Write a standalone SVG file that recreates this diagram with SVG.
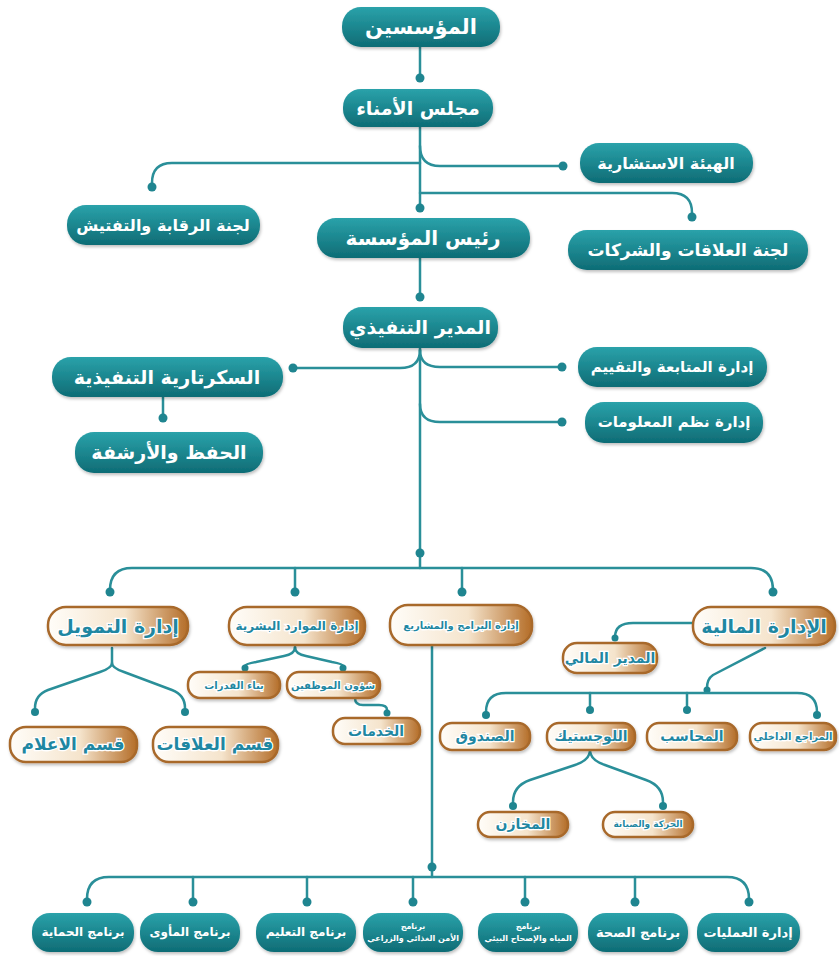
<svg xmlns="http://www.w3.org/2000/svg" width="839" height="956" viewBox="0 0 839 956">
<defs>
<linearGradient id="tg" x1="0" y1="0" x2="0" y2="1">
<stop offset="0" stop-color="#2aa2aa"/>
<stop offset="1" stop-color="#0e6c75"/>
</linearGradient>
<linearGradient id="bg" x1="0" y1="0" x2="1" y2="0">
<stop offset="0" stop-color="#fffdf9"/>
<stop offset="0.55" stop-color="#f5e4cc"/>
<stop offset="1" stop-color="#b46d28"/>
</linearGradient>
<filter id="sh" x="-10%" y="-20%" width="120%" height="150%">
<feDropShadow dx="1" dy="2" stdDeviation="1.5" flood-color="#000" flood-opacity="0.25"/>
</filter>
</defs>
<style>
.t{fill:url(#tg);filter:url(#sh)}
.b{fill:url(#bg);stroke:#a8692c;stroke-width:2.5;filter:url(#sh)}
.tt{fill:#fff;font-family:"DejaVu Sans",sans-serif;font-weight:bold;text-anchor:middle;dominant-baseline:central}
.bt{fill:#1f87a2;stroke:#fff;stroke-width:2.5;paint-order:stroke;font-family:"DejaVu Sans",sans-serif;font-weight:bold;text-anchor:middle;dominant-baseline:central}
.c{fill:none;stroke:#2a8f99;stroke-width:2.5;stroke-linecap:round;stroke-linejoin:round}
.d{fill:#1f8590}
</style>
<rect width="839" height="956" fill="#fff"/>
<g id="connectors">
<path class="c" d="M420,47 V78"/><circle class="d" cx="420" cy="78" r="4.5"/>
<path class="c" d="M420,127 V208"/><circle class="d" cx="420" cy="208" r="4.5"/>
<path class="c" d="M420,146 Q420,166 440,166 H560"/><circle class="d" cx="563" cy="166" r="4.5"/>
<path class="c" d="M420,163 H172 Q152,163 152,183"/><circle class="d" cx="152" cy="187" r="4.5"/>
<path class="c" d="M420,193 H672 Q692,193 692,213"/><circle class="d" cx="692" cy="217" r="4.5"/>
<path class="c" d="M420,258 V297"/><circle class="d" cx="420" cy="297" r="4.5"/>
<path class="c" d="M420,348 V568"/><circle class="d" cx="420" cy="553" r="4.5"/>
<path class="c" d="M420,350 Q420,368 400,368 H293"/><circle class="d" cx="293" cy="368" r="4.5"/>
<path class="c" d="M420,350 Q420,367 440,367 H560"/><circle class="d" cx="562" cy="367" r="4.5"/>
<path class="c" d="M420,404 Q420,422 440,422 H560"/><circle class="d" cx="562" cy="422" r="4.5"/>
<path class="c" d="M163,397 V418"/><circle class="d" cx="163" cy="418" r="4.5"/>
<path class="c" d="M110,590 Q110,568 132,568 H751 Q773,568 773,590"/>
<circle class="d" cx="110" cy="592" r="4.5"/><circle class="d" cx="773" cy="592" r="4.5"/>
<path class="c" d="M295,568 V592"/><circle class="d" cx="295" cy="592" r="4.5"/>
<path class="c" d="M462,568 V592"/><circle class="d" cx="462" cy="592" r="4.5"/>
<path class="c" d="M693,623 H633 Q615,623 615,637"/><circle class="d" cx="615" cy="638" r="3.5"/>
<path class="c" d="M765,648 L713,675 Q707,679 707,688"/><circle class="d" cx="707" cy="690" r="3.5"/>
<path class="c" d="M486,712 Q486,693 506,693 H797 Q817,693 817,712"/>
<circle class="d" cx="486" cy="715" r="4"/><circle class="d" cx="817" cy="715" r="4"/>
<path class="c" d="M590,693 V710"/><circle class="d" cx="590" cy="710" r="4"/>
<path class="c" d="M687,693 V710"/><circle class="d" cx="687" cy="710" r="4"/>
<path class="c" d="M590,750 Q590,760 575,765 L530,780 Q513,786 513,802"/><circle class="d" cx="513" cy="806" r="4"/>
<path class="c" d="M590,750 Q590,760 605,765 L646,780 Q663,786 663,802"/><circle class="d" cx="663" cy="806" r="4"/>
<path class="c" d="M295,647 Q295,654 284,656 L256,662 Q245,664 245,666"/><circle class="d" cx="245" cy="668" r="3.5"/>
<path class="c" d="M295,647 Q295,654 306,656 L332,662 Q343,664 343,666"/><circle class="d" cx="343" cy="668" r="3.5"/>
<path class="c" d="M355,698 Q355,705 363,705 H379 Q387,705 387,710"/><circle class="d" cx="387" cy="713" r="3.5"/>
<path class="c" d="M112,648 V663 Q112,668 100,672 L48,690 Q35,695 35,708"/><circle class="d" cx="35" cy="712" r="4"/>
<path class="c" d="M112,663 Q112,668 124,672 L172,690 Q185,695 185,708"/><circle class="d" cx="185" cy="712" r="4"/>
<path class="c" d="M432,645 V877"/><circle class="d" cx="432" cy="867" r="4.5"/>
<path class="c" d="M87,899 Q87,877 109,877 H727 Q749,877 749,899"/>
<circle class="d" cx="87" cy="902" r="4.5"/><circle class="d" cx="749" cy="902" r="4.5"/>
<path class="c" d="M193,877 V902"/><circle class="d" cx="193" cy="902" r="4.5"/>
<path class="c" d="M307,877 V902"/><circle class="d" cx="307" cy="902" r="4.5"/>
<path class="c" d="M413,877 V902"/><circle class="d" cx="413" cy="902" r="4.5"/>
<path class="c" d="M525,877 V902"/><circle class="d" cx="525" cy="902" r="4.5"/>
<path class="c" d="M635,877 V902"/><circle class="d" cx="635" cy="902" r="4.5"/>
</g>
<g id="founders"><rect class="t" x="342" y="7" width="158" height="40" rx="19"/><text class="tt" x="421" y="27" font-size="21">المؤسسين</text></g>
<g id="board"><rect class="t" x="343" y="89" width="150" height="38" rx="18"/><text class="tt" x="418" y="108" font-size="19">مجلس الأمناء</text></g>
<g id="advisory"><rect class="t" x="580" y="143" width="173" height="40" rx="19"/><text class="tt" x="666" y="163" font-size="16">الهيئة الاستشارية</text></g>
<g id="audit"><rect class="t" x="67" y="205" width="193" height="40" rx="19"/><text class="tt" x="163" y="225" font-size="16">لجنة الرقابة والتفتيش</text></g>
<g id="relations-committee"><rect class="t" x="568" y="230" width="240" height="40" rx="19"/><text class="tt" x="688" y="250" font-size="17">لجنة العلاقات والشركات</text></g>
<g id="president"><rect class="t" x="317" y="218" width="213" height="40" rx="19"/><text class="tt" x="423" y="238" font-size="20">رئيس المؤسسة</text></g>
<g id="executive"><rect class="t" x="343" y="307" width="155" height="41" rx="19"/><text class="tt" x="420" y="327" font-size="19">المدير التنفيذي</text></g>
<g id="secretariat"><rect class="t" x="52" y="357" width="231" height="40" rx="19"/><text class="tt" x="167" y="377" font-size="19">السكرتارية التنفيذية</text></g>
<g id="archive"><rect class="t" x="75" y="432" width="188" height="41" rx="19"/><text class="tt" x="169" y="452" font-size="19">الحفظ والأرشفة</text></g>
<g id="monitoring"><rect class="t" x="578" y="347" width="189" height="40" rx="19"/><text class="tt" x="672" y="367" font-size="15">إدارة المتابعة والتقييم</text></g>
<g id="info-systems"><rect class="t" x="585" y="402" width="178" height="41" rx="19"/><text class="tt" x="674" y="422" font-size="15">إدارة نظم المعلومات</text></g>
<g id="funding"><rect class="b" x="48" y="607" width="140" height="38" rx="18"/><text class="bt" x="118" y="626" font-size="19">إدارة التمويل</text></g>
<g id="hr"><rect class="b" x="229" y="607" width="136" height="38" rx="18"/><text class="bt" x="297" y="626" font-size="12">إدارة الموارد البشرية</text></g>
<g id="projects"><rect class="b" x="390" y="605" width="142" height="40" rx="18"/><text class="bt" x="461" y="625" font-size="10">إدارة البرامج والمشاريع</text></g>
<g id="finance"><rect class="b" x="693" y="607" width="142" height="38" rx="18"/><text class="bt" x="764" y="626" font-size="19">الإدارة المالية</text></g>
<g id="cfo"><rect class="b" x="563" y="643" width="94" height="30" rx="14"/><text class="bt" x="610" y="658" font-size="14">المدير المالي</text></g>
<g id="capacity"><rect class="b" x="188" y="672" width="92" height="26" rx="12"/><text class="bt" x="234" y="685" font-size="10">بناء القدرات</text></g>
<g id="staff"><rect class="b" x="287" y="672" width="93" height="26" rx="12"/><text class="bt" x="333" y="685" font-size="10">شؤون الموظفين</text></g>
<g id="services"><rect class="b" x="333" y="718" width="87" height="26" rx="12"/><text class="bt" x="376" y="731" font-size="14">الخدمات</text></g>
<g id="media"><rect class="b" x="10" y="727" width="127" height="35" rx="16"/><text class="bt" x="73" y="744" font-size="17">قسم الاعلام</text></g>
<g id="relations"><rect class="b" x="153" y="727" width="125" height="35" rx="16"/><text class="bt" x="215" y="744" font-size="17">قسم العلاقات</text></g>
<g id="cashbox"><rect class="b" x="440" y="723" width="90" height="27" rx="12"/><text class="bt" x="485" y="736" font-size="14">الصندوق</text></g>
<g id="logistics"><rect class="b" x="547" y="723" width="88" height="27" rx="12"/><text class="bt" x="591" y="736" font-size="14">اللوجستيك</text></g>
<g id="accountant"><rect class="b" x="647" y="723" width="90" height="27" rx="12"/><text class="bt" x="692" y="736" font-size="14">المحاسب</text></g>
<g id="auditor"><rect class="b" x="750" y="723" width="86" height="27" rx="12"/><text class="bt" x="793" y="736" font-size="10">المراجع الداخلي</text></g>
<g id="stores"><rect class="b" x="478" y="812" width="90" height="25" rx="12"/><text class="bt" x="523" y="824" font-size="14">المخازن</text></g>
<g id="maintenance"><rect class="b" x="603" y="812" width="90" height="25" rx="12"/><text class="bt" x="648" y="824" font-size="9">الحركة والصيانة</text></g>
<g id="protection"><rect class="t" x="32" y="913" width="102" height="39" rx="18"/><text class="tt" x="83" y="932" font-size="12">برنامج الحماية</text></g>
<g id="shelter"><rect class="t" x="140" y="913" width="100" height="39" rx="18"/><text class="tt" x="190" y="932" font-size="12">برنامج المأوى</text></g>
<g id="education"><rect class="t" x="256" y="913" width="100" height="39" rx="18"/><text class="tt" x="306" y="932" font-size="12">برنامج التعليم</text></g>
<g id="food"><rect class="t" x="363" y="913" width="100" height="39" rx="18"/><text class="tt" x="413" y="926" font-size="8">برنامج</text><text class="tt" x="413" y="938" font-size="8">الأمن الغذائي والزراعي</text></g>
<g id="wash"><rect class="t" x="478" y="913" width="100" height="39" rx="18"/><text class="tt" x="528" y="926" font-size="8">برنامج</text><text class="tt" x="528" y="938" font-size="8">المياه والإصحاح البيئي</text></g>
<g id="health"><rect class="t" x="588" y="913" width="100" height="39" rx="18"/><text class="tt" x="638" y="932" font-size="13">برنامج الصحة</text></g>
<g id="operations"><rect class="t" x="697" y="913" width="103" height="39" rx="18"/><text class="tt" x="748" y="932" font-size="13">إدارة العمليات</text></g>
</svg>
